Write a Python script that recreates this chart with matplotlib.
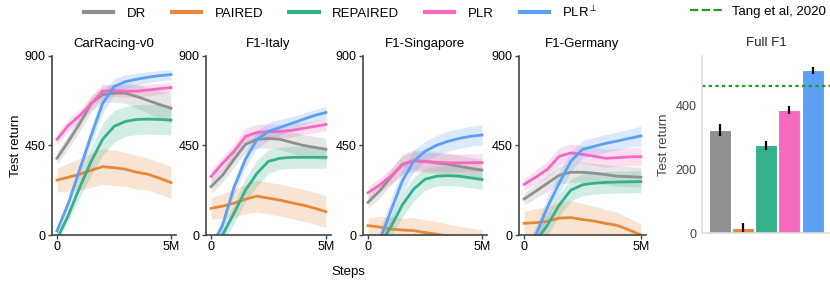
"""
Test return curves on CarRacing / F1 tracks + Full F1 bar summary.
"""
import numpy as np
import matplotlib
matplotlib.use("Agg")
import matplotlib.pyplot as plt
from matplotlib.lines import Line2D

plt.rcParams["font.family"] = ["Liberation Sans", "DejaVu Sans"]

METHODS = ["DR", "PAIRED", "REPAIRED", "PLR", "PLR$^{\\perp}$"]
COLORS = ["#909090", "#e6883a", "#36b08a", "#f569c0", "#5c9ff5"]

STEPS_M = [0.0, 0.5, 1.0, 1.5, 2.0, 2.5, 3.0, 3.5, 4.0, 4.5, 5.0]
ENVS = ["CarRacing-v0", "F1-Italy", "F1-Singapore", "F1-Germany"]

# mean test return per method, one list per env (DR, PAIRED, REPAIRED, PLR, PLR_perp)
CAR_MEAN = [
    [385, 470, 560, 660, 705, 712, 712, 695, 675, 655, 636],
    [276, 290, 305, 325, 343, 338, 330, 315, 305, 285, 263],
    [-20, 100, 240, 370, 480, 545, 570, 580, 582, 580, 577],
    [480, 550, 600, 660, 722, 725, 722, 722, 728, 734, 740],
    [20, 160, 330, 500, 660, 745, 770, 782, 792, 800, 805],
]
CAR_SD = [
    [30, 35, 40, 40, 40, 45, 50, 60, 65, 70, 75],
    [60, 70, 80, 85, 90, 90, 85, 85, 80, 80, 80],
    [20, 30, 50, 70, 80, 80, 75, 75, 75, 75, 75],
    [30, 30, 30, 35, 35, 30, 30, 30, 30, 28, 25],
    [15, 25, 35, 45, 50, 40, 35, 30, 28, 25, 25],
]
ITALY_MEAN = [
    [243, 300, 380, 455, 480, 485, 480, 465, 450, 440, 430],
    [134, 145, 160, 180, 195, 185, 175, 162, 150, 135, 117],
    [-80, 0, 110, 225, 310, 370, 385, 390, 390, 390, 390],
    [293, 360, 420, 495, 515, 518, 520, 525, 535, 545, 555],
    [-60, 50, 240, 380, 480, 520, 540, 560, 580, 600, 615],
]
ITALY_SD = [
    [35, 35, 40, 40, 45, 50, 50, 55, 55, 55, 55],
    [55, 60, 70, 75, 80, 80, 80, 80, 80, 80, 80],
    [30, 40, 50, 60, 65, 60, 55, 55, 55, 55, 55],
    [30, 35, 35, 40, 40, 40, 35, 35, 30, 30, 30],
    [20, 25, 35, 40, 45, 45, 40, 35, 30, 30, 30],
]
SING_MEAN = [
    [164, 220, 290, 355, 372, 370, 362, 355, 345, 335, 326],
    [47, 40, 30, 25, 22, 12, 4, -5, -10, -15, -20],
    [-150, -50, 40, 150, 230, 280, 295, 298, 295, 287, 279],
    [212, 250, 295, 350, 375, 368, 365, 362, 362, 363, 363],
    [-160, -30, 120, 270, 370, 420, 450, 470, 485, 495, 502],
]
SING_SD = [
    [30, 35, 40, 50, 55, 55, 55, 55, 55, 55, 55],
    [40, 55, 60, 60, 65, 65, 65, 60, 55, 50, 45],
    [30, 40, 50, 60, 60, 55, 50, 50, 50, 50, 50],
    [30, 35, 40, 45, 45, 45, 45, 45, 45, 45, 45],
    [30, 50, 60, 60, 55, 50, 50, 50, 50, 50, 50],
]
GER_MEAN = [
    [181, 220, 260, 300, 315, 315, 310, 303, 295, 293, 290],
    [59, 62, 68, 85, 87, 78, 70, 58, 48, 25, 0],
    [-120, -30, 50, 150, 225, 252, 260, 264, 266, 267, 268],
    [254, 290, 330, 395, 412, 405, 395, 385, 388, 392, 393],
    [-100, 0, 140, 260, 370, 430, 445, 460, 472, 485, 497],
]
GER_SD = [
    [30, 35, 40, 45, 50, 50, 50, 50, 50, 50, 50],
    [60, 70, 75, 80, 85, 80, 75, 70, 65, 60, 55],
    [30, 40, 50, 55, 55, 55, 55, 55, 55, 55, 55],
    [30, 35, 40, 45, 45, 45, 45, 45, 45, 45, 45],
    [30, 45, 55, 55, 50, 45, 45, 45, 45, 45, 50],
]

FULL_F1_MEAN = [324, 17, 276, 387, 512]
FULL_F1_ERR = [18, 15, 14, 13, 11]
TANG_2020 = 463

ENV_MEANS = [CAR_MEAN, ITALY_MEAN, SING_MEAN, GER_MEAN]
ENV_SDS = [CAR_SD, ITALY_SD, SING_SD, GER_SD]

W, H = 830, 283
fig = plt.figure(figsize=(W / 100, H / 100), dpi=100)


def fr(x0, y0, x1, y1):
    # pixel box -> figure fraction rect
    return [x0 / W, 1 - y1 / H, (x1 - x0) / W, (y1 - y0) / H]


LINE_BOXES = [(52, 55.7, 176, 235), (206, 55.7, 331, 235),
              (363, 55.7, 487, 235), (519, 55.7, 646, 235)]
SPINE = "#444444"

x = np.array(STEPS_M)
for i, env in enumerate(ENVS):
    ax = fig.add_axes(fr(*LINE_BOXES[i]))
    for m, col in enumerate(COLORS):
        mu = np.array(ENV_MEANS[i][m], float)
        sd = np.array(ENV_SDS[i][m], float)
        ax.fill_between(x, mu - sd, mu + sd, color=col, alpha=0.22, lw=0)
        ax.plot(x, mu, color=col, lw=2.0)
    ax.set_xlim(-0.22, 5.22)
    ax.set_ylim(0, 900)
    ax.set_xticks([0, 5])
    ax.set_xticklabels(["0", "5M"])
    ax.set_yticks([0, 450, 900])
    for s in ("top", "right"):
        ax.spines[s].set_visible(False)
    for s in ("left", "bottom"):
        ax.spines[s].set_color(SPINE)
        ax.spines[s].set_linewidth(1.2)
    ax.tick_params(length=3, width=1, color=SPINE, labelsize=9, pad=1.5)
    ax.set_title(env, fontsize=9.5, pad=6)
    if i == 0:
        ax.set_ylabel("Test return", fontsize=9.5, labelpad=2)

fig.text(348 / W, 1 - 272 / H, "Steps", ha="center", va="center", fontsize=9.5)

# Full F1 bars
bx = fig.add_axes(fr(702, 56, 830, 233))
pos = np.arange(len(METHODS))
bx.bar(pos, FULL_F1_MEAN, width=0.95, color=COLORS, edgecolor="white", lw=0.8,
       yerr=FULL_F1_ERR, error_kw=dict(ecolor="black", elinewidth=1.6, capsize=0))
bx.axhline(TANG_2020, color="#1f9b1f", ls=(0, (1.5, 1.5)), lw=1.6)
bx.set_xlim(-0.76, 4.75)
bx.set_ylim(0, 556)
bx.set_xticks([])
bx.set_yticks([0, 200, 400])
for s in ("top", "right"):
    bx.spines[s].set_visible(False)
for s in ("left", "bottom"):
    bx.spines[s].set_color("#dddddd")
    bx.spines[s].set_linewidth(1.2)
bx.tick_params(axis="y", length=0, labelsize=9, labelcolor="#444444", pad=4)
bx.set_ylabel("Test return", fontsize=9.5, color="#444444", labelpad=4)
bx.set_title("Full F1", fontsize=9.5, pad=7, color="#222222")

handles = [Line2D([], [], color=c, lw=3) for c in COLORS]
fig.legend(handles, METHODS, loc="center", bbox_to_anchor=(341 / W, 1 - 12 / H),
           ncol=5, frameon=False, fontsize=9.5, handlelength=2.2,
           handletextpad=1.0, columnspacing=2.0)
tang = Line2D([], [], color="#1f9b1f", ls="--", lw=1.6)
fig.legend([tang], ["Tang et al, 2020"], loc="center", bbox_to_anchor=(758 / W, 1 - 12 / H),
           frameon=False, fontsize=9.5, handlelength=2.4, handletextpad=0.8)

fig.savefig("out.png", dpi=100)
